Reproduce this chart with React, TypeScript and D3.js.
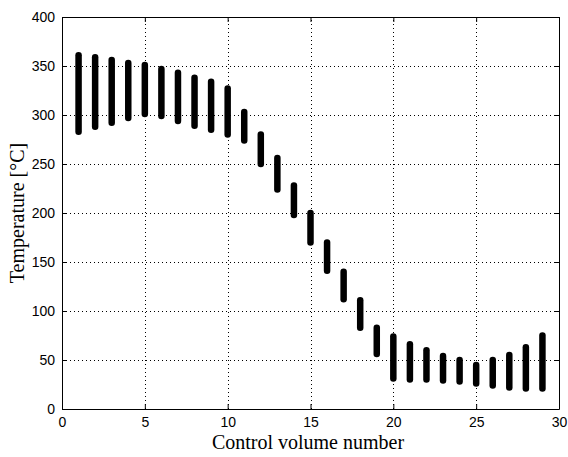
import { useEffect, useRef } from "react";
import * as d3 from "d3";

// control volume index
const volumes = d3.range(1, 30);
// temperature band per control volume [°C]
const maxTemp = [361, 359, 356, 353, 351, 347, 343, 338, 334, 327, 303, 280, 256, 228, 200, 170, 140, 111, 83, 74, 66, 60, 54, 50, 45, 50, 55, 63, 75];
const minTemp = [283, 288, 292, 297, 301, 299, 294, 289, 285, 280, 274, 250, 224, 198, 170, 141, 112, 83, 56, 31, 30, 30, 29, 28, 26, 24, 22, 21, 21];
const xTicks = [0, 5, 10, 15, 20, 25, 30];
const yTicks = [0, 50, 100, 150, 200, 250, 300, 350, 400];

export default function App() {
  const ref = useRef<SVGSVGElement>(null);

  const width = 568;
  const height = 457;
  const margin = { top: 17, right: 9, bottom: 48, left: 62 };

  useEffect(() => {
    const svg = d3.select(ref.current);
    svg.selectAll("*").remove();

    const x = d3.scaleLinear().domain([0, 30]).range([margin.left, width - margin.right]);
    const y = d3.scaleLinear().domain([0, 400]).range([height - margin.bottom, margin.top]);

    const tickFont = "'Liberation Sans Narrow', 'Arial Narrow', 'Liberation Sans', sans-serif";
    const labelFont = "'Liberation Serif', 'Times New Roman', serif";

    svg.append("rect")
      .attr("x", margin.left).attr("y", margin.top)
      .attr("width", x(30) - x(0)).attr("height", y(0) - y(400))
      .attr("fill", "white");

    // dotted grid
    const grid = svg.append("g").attr("stroke", "#000").attr("stroke-width", 1)
      .attr("stroke-dasharray", "1,3").attr("shape-rendering", "crispEdges");
    grid.selectAll("line.gx").data(xTicks.slice(1, -1)).enter().append("line")
      .attr("x1", d => Math.round(x(d)) + 0.5).attr("x2", d => Math.round(x(d)) + 0.5)
      .attr("y1", y(0)).attr("y2", y(400));
    grid.selectAll("line.gy").data(yTicks.slice(1, -1)).enter().append("line")
      .attr("y1", d => Math.round(y(d)) + 0.5).attr("y2", d => Math.round(y(d)) + 0.5)
      .attr("x1", x(0)).attr("x2", x(30));

    // temperature bands
    svg.append("g").selectAll("line").data(volumes).enter().append("line")
      .attr("x1", d => x(d)).attr("x2", d => x(d))
      .attr("y1", (d, i) => y(minTemp[i])).attr("y2", (d, i) => y(maxTemp[i]))
      .attr("stroke", "#000").attr("stroke-width", 6.5).attr("stroke-linecap", "round");

    // axes (inward ticks, MATLAB style)
    const xAxis = svg.append("g").attr("transform", `translate(0, ${y(0)})`)
      .call(d3.axisBottom(x).tickValues(xTicks).tickSize(-5).tickPadding(8).tickSizeOuter(0));
    const xTop = svg.append("g").attr("transform", `translate(0, ${y(400)})`)
      .call(d3.axisTop(x).tickValues(xTicks).tickSize(-5).tickFormat(() => "").tickSizeOuter(0));
    const yAxis = svg.append("g").attr("transform", `translate(${x(0)}, 0)`)
      .call(d3.axisLeft(y).tickValues(yTicks).tickSize(-5).tickPadding(7).tickSizeOuter(0));
    const yRight = svg.append("g").attr("transform", `translate(${x(30)}, 0)`)
      .call(d3.axisRight(y).tickValues(yTicks).tickSize(-5).tickFormat(() => "").tickSizeOuter(0));

    [xAxis, xTop, yAxis, yRight].forEach(a => {
      a.selectAll("path").attr("stroke", "#000").attr("stroke-width", 1);
      a.selectAll("line").attr("stroke", "#000");
      a.selectAll("text").attr("fill", "#000").style("font-family", tickFont).style("font-size", "14px");
    });

    svg.append("text")
      .attr("x", 308).attr("y", 449)
      .attr("text-anchor", "middle")
      .style("font-family", labelFont).style("font-size", "20px")
      .text("Control volume number");

    svg.append("text")
      .attr("transform", `translate(24, ${(y(0) + y(400)) / 2}) rotate(-90)`)
      .attr("text-anchor", "middle")
      .style("font-family", labelFont).style("font-size", "20px")
      .text("Temperature [°C]");
  }, []);

  return (
    <div style={{ position: "absolute", left: 0, top: 0 }}>
      <svg ref={ref} width={width} height={height} style={{ display: "block", background: "white" }}></svg>
    </div>
  );
}
